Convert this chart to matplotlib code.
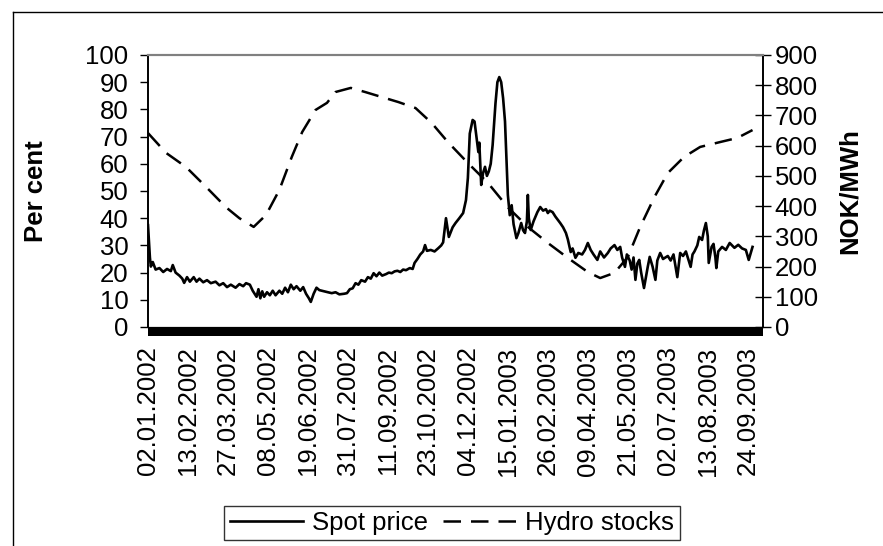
import matplotlib
matplotlib.use("Agg")
import matplotlib.pyplot as plt
import matplotlib.transforms as mtransforms
from matplotlib.patches import Rectangle
from matplotlib.lines import Line2D

plt.rcParams['font.family'] = ['Liberation Sans', 'DejaVu Sans']

# days counted from 02.01.2002 (one category per calendar day)
spot_day = [0, 2, 3, 5, 8, 12, 16, 20, 24, 26, 29, 33, 36, 38, 41, 44, 48, 51, 54, 58,
            62, 66, 71, 75, 79, 83, 87, 92, 96, 100, 103, 107, 110, 114, 116, 118, 120, 122, 125, 128,
            131, 134, 138, 141, 144, 147, 150, 153, 156, 160, 163, 166, 169, 171, 174, 177, 180, 185, 189, 193,
            197, 201, 206, 209, 212, 215, 218, 221, 224, 228, 231, 234, 237, 240, 243, 246, 250, 253, 256, 259,
            262, 265, 268, 271, 275, 278, 280, 283, 286, 289, 291, 293, 297, 301, 305, 308, 310, 313, 316, 320,
            323, 327, 331, 334, 336, 338, 341, 343, 345, 347, 348, 350, 352, 354, 356, 358, 360, 362, 365, 367,
            369, 371, 373, 375, 376, 378, 380, 382, 384, 387, 389, 392, 394, 396, 398, 399, 400, 402, 405, 409,
            412, 415, 418, 420, 422, 425, 428, 433, 436, 439, 441, 444, 446, 449, 452, 456, 459, 462, 465, 468,
            472, 475, 479, 483, 486, 490, 493, 496, 498, 501, 503, 506, 508, 510, 512, 514, 516, 518, 521, 525,
            527, 530, 533, 535, 538, 541, 546, 549, 552, 556, 559, 562, 565, 570, 572, 574, 577, 579, 582, 584,
            586, 588, 589, 592, 594, 596, 597, 599, 603, 607, 611, 616, 620, 624, 628, 631, 635]
spot_price = [337, 230, 200, 215, 190, 195, 182, 192, 185, 205, 180, 170, 160, 146, 165, 150, 165, 150, 160, 148,
              155, 145, 150, 138, 145, 132, 140, 130, 142, 135, 145, 140, 120, 100, 125, 95, 118, 100, 115, 105,
              120, 105, 120, 110, 130, 115, 140, 125, 135, 120, 132, 110, 95, 83, 110, 130, 122, 118, 115, 112,
              115, 108, 110, 112, 125, 128, 145, 140, 155, 150, 165, 160, 178, 168, 180, 170, 175, 180, 178, 184,
              186, 182, 190, 188, 195, 192, 212, 225, 240, 250, 271, 252, 255, 250, 261, 270, 280, 360, 298, 330,
              344, 360, 377, 420, 493, 640, 685, 680, 630, 579, 610, 470, 510, 530, 500, 515, 540, 602, 740, 810,
              827, 810, 757, 680, 602, 437, 370, 403, 340, 294, 310, 344, 320, 311, 350, 437, 360, 321, 350, 380,
              397, 385, 390, 377, 385, 380, 365, 344, 330, 311, 290, 248, 260, 229, 245, 240, 255, 278, 255, 240,
              222, 250, 230, 245, 260, 271, 255, 265, 230, 199, 240, 220, 190, 230, 156, 210, 222, 180, 129, 200,
              232, 200, 156, 220, 245, 225, 235, 220, 240, 165, 245, 235, 250, 199, 240, 250, 270, 298, 288, 320,
              344, 300, 212, 265, 275, 230, 195, 250, 265, 255, 278, 262, 272, 260, 255, 222, 265]

hydro_day = [0, 19, 40, 61, 82, 96, 111, 124, 138, 151, 162, 176, 188, 197, 213, 228, 245, 263, 281, 298,
             315, 336, 357, 378, 399, 420, 441, 462, 475, 490, 504, 517, 532, 546, 563, 580, 601, 619, 635]
hydro_stock = [71.3, 64.0, 58.8, 51.5, 44.0, 40.0, 36.8, 41.2, 50.4, 62.5, 71.7, 79.8, 82.4, 86.4, 87.9, 86.4,
               84.6, 82.7, 80.5, 75.0, 68.0, 60.3, 53.0, 44.0, 36.8, 30.9, 25.4, 20.2, 18.0, 19.9, 25.7, 36.8,
               47.8, 56.6, 62.5, 66.2, 68.0, 69.5, 72.4]

tick_days = list(range(0, 631, 42))
tick_labels = ['02.01.2002', '13.02.2002', '27.03.2002', '08.05.2002', '19.06.2002', '31.07.2002',
               '11.09.2002', '23.10.2002', '04.12.2002', '15.01.2003', '26.02.2003', '09.04.2003',
               '21.05.2003', '02.07.2003', '13.08.2003', '24.09.2003']
n_days = 646

fig = plt.figure(figsize=(8.83, 5.46), dpi=100)
ax = fig.add_axes([148 / 883, 1 - 327 / 546, 615 / 883, 272 / 546])
ax2 = ax.twinx()

fs = 18.5

# hydro stocks on left axis (per cent)
l_hydro, = ax.plot(hydro_day, hydro_stock, color='black', lw=1.8, dashes=(7, 4))
# spot price on right axis
l_spot, = ax2.plot(spot_day, spot_price, color='black', lw=1.9)

ax.set_xlim(0, n_days)
ax.set_ylim(0, 100)
ax2.set_ylim(0, 900)
ax.set_yticks(range(0, 101, 10))
ax2.set_yticks(range(0, 901, 100))
ax.set_xticks(tick_days)
ax.set_xticklabels(tick_labels, rotation=90, fontsize=fs)
ax.tick_params(axis='x', length=0, pad=14)
ax.tick_params(axis='y', direction='out', length=6, width=1, labelsize=fs, pad=8)
ax2.tick_params(axis='y', direction='inout', length=11, width=1, labelsize=fs, pad=3)

for a in (ax, ax2):
    a.spines['top'].set_color('#808080')
    a.spines['top'].set_linewidth(1.5)
    a.spines['left'].set_linewidth(1.2)
    a.spines['right'].set_linewidth(1.2)

ax.set_ylabel('Per cent', fontsize=fs, fontweight='bold')
ax2.set_ylabel('NOK/MWh', fontsize=fs, fontweight='bold')
ax.yaxis.set_label_coords(-0.163, 0.5)
ax2.yaxis.set_label_coords(1.122, 0.5)

# solid black band from the daily category tick marks
trans = mtransforms.blended_transform_factory(ax.transData, ax.transAxes)
ax.add_patch(Rectangle((0, -9 / 272), n_days, 9 / 272, transform=trans,
                       facecolor='black', edgecolor='none', clip_on=False))

leg = fig.legend([l_spot, l_hydro], ['Spot price', 'Hydro stocks'], ncol=2,
                 loc='upper center', bbox_to_anchor=(452 / 883, 1 - 506 / 546),
                 fontsize=fs, frameon=True, fancybox=False, shadow=False,
                 handlelength=2.85, handletextpad=0.35, columnspacing=0.6,
                 borderpad=0.2, borderaxespad=0)
leg.get_frame().set_edgecolor('black')
leg.get_frame().set_linewidth(1)

# outer chart frame (top and left edges visible)
fig.add_artist(Line2D([13 / 883, 1], [1 - 12 / 546, 1 - 12 / 546], color='black', lw=1))
fig.add_artist(Line2D([13 / 883, 13 / 883], [0, 1 - 12 / 546], color='black', lw=1))

fig.savefig('out.png', dpi=100)
